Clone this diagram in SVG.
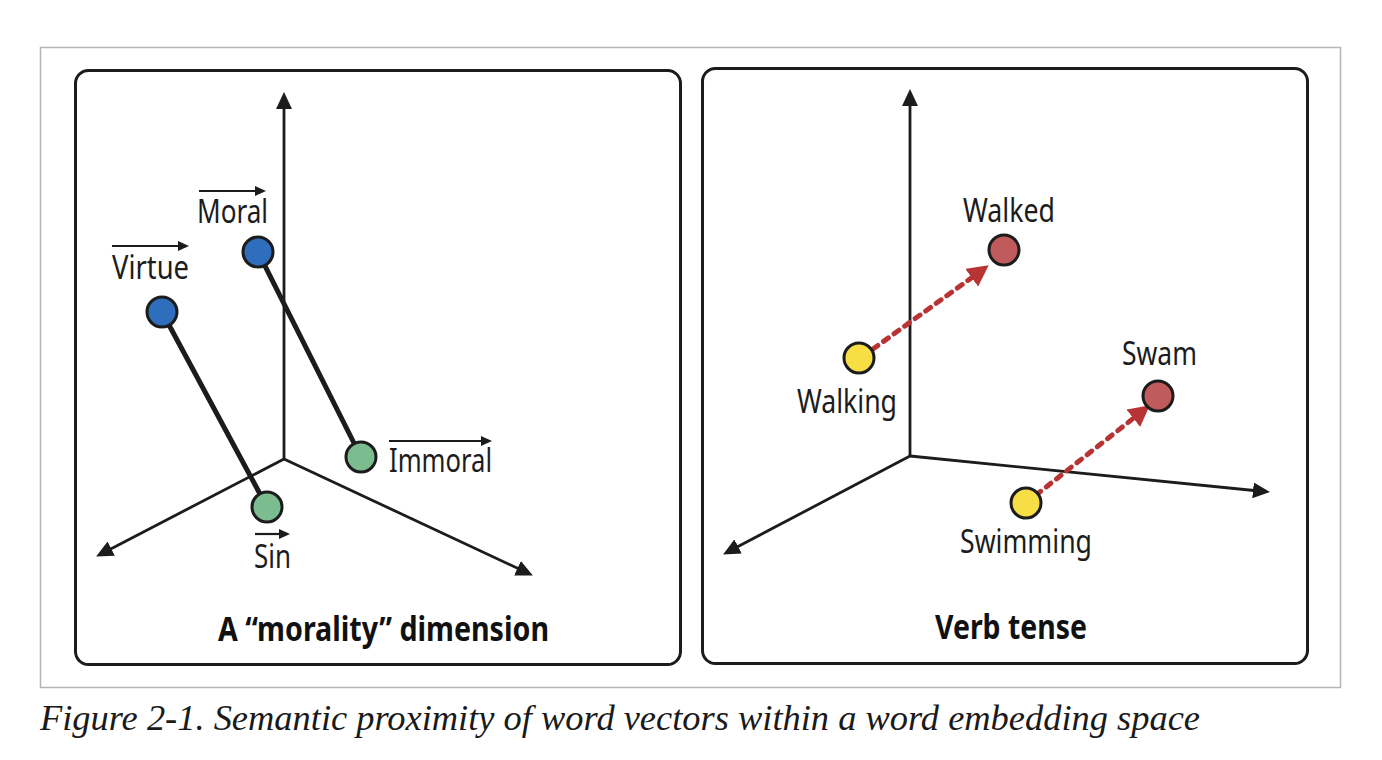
<svg xmlns="http://www.w3.org/2000/svg" width="1382" height="760" viewBox="0 0 1382 760">
<style>
.frame{fill:#fff;stroke:#b5b5b5;stroke-width:1.5}
.panel{fill:#fff;stroke:#1c1c1c;stroke-width:3}
.axis{stroke:#1c1c1c;stroke-width:2.8;fill:none}
.vec{stroke:#1c1c1c;stroke-width:5;fill:none;stroke-linecap:round}
.over{stroke:#1c1c1c;stroke-width:2.2;fill:none}
.dot{stroke:#b83434;stroke-width:5;fill:none;stroke-dasharray:6 7;stroke-linecap:round}
.node{stroke:#1c1c1c;stroke-width:3}
.blue{fill:#2f6ebd}.green{fill:#7bbd8f}.yellow{fill:#f8de45}.red{fill:#c15a5b}
.lbl{font-family:"Noto Sans","Open Sans","DejaVu Sans",sans-serif;font-size:33px;fill:#1c1c1c}
.title{font-family:"Noto Sans","Open Sans","DejaVu Sans",sans-serif;font-size:34px;font-weight:bold;fill:#111}
.cap{font-family:"Liberation Serif","Times New Roman",serif;font-style:italic;font-size:36px;fill:#1a1a1a}
</style>
<defs>
<marker id="ah" markerUnits="userSpaceOnUse" markerWidth="18" markerHeight="16" refX="6" refY="8" orient="auto">
<path d="M0,0 L17,8 L0,16 z" fill="#1c1c1c"/>
</marker>
<marker id="ahs" markerUnits="userSpaceOnUse" markerWidth="12" markerHeight="10" refX="3" refY="5" orient="auto">
<path d="M0,0 L11,5 L0,10 z" fill="#1c1c1c"/>
</marker>
<marker id="ahr" markerUnits="userSpaceOnUse" markerWidth="22" markerHeight="22" refX="2" refY="11" orient="auto">
<path d="M0,0 L21,11 L0,22 z" fill="#b83434"/>
</marker>
</defs>
<rect width="1382" height="760" fill="#fff"/>
<rect class="frame" x="40.5" y="47.5" width="1300" height="640"/>

<g id="panel-morality">
<rect class="panel" x="75.5" y="70.5" width="605" height="594" rx="13"/>
<text class="title" x="218" y="641" textLength="331" lengthAdjust="spacingAndGlyphs">A “morality” dimension</text>
</g>
<g id="panel-tense">
<rect class="panel" x="702.5" y="68.5" width="605" height="595" rx="13"/>
<text class="title" x="935" y="639" textLength="152" lengthAdjust="spacingAndGlyphs">Verb tense</text>
</g>

<g id="connectors">
<line class="axis" x1="284" y1="459" x2="284" y2="103" marker-end="url(#ah)"/>
<line class="axis" x1="284" y1="459" x2="105.9" y2="551.4" marker-end="url(#ah)"/>
<line class="axis" x1="284" y1="459" x2="522.9" y2="570.8" marker-end="url(#ah)"/>
<line class="axis" x1="910" y1="456" x2="910" y2="100" marker-end="url(#ah)"/>
<line class="axis" x1="910" y1="456" x2="732.8" y2="549.3" marker-end="url(#ah)"/>
<line class="axis" x1="910" y1="456" x2="1259" y2="491" marker-end="url(#ah)"/>
<line class="vec" x1="162" y1="312" x2="267" y2="507"/>
<line class="vec" x1="258" y1="252" x2="361" y2="457"/>
<line class="dot" x1="873" y1="349" x2="973.3" y2="276.5" marker-end="url(#ahr)"/>
<line class="dot" x1="1036" y1="495" x2="1134.9" y2="417.1" marker-end="url(#ahr)"/>
</g>

<g id="node-virtue">
<circle class="node blue" cx="162" cy="312" r="15"/>
<line class="over" x1="112" y1="246" x2="181" y2="246" marker-end="url(#ahs)"/>
<text class="lbl" x="112" y="279" textLength="77" lengthAdjust="spacingAndGlyphs">Virtue</text>
</g>
<g id="node-moral">
<circle class="node blue" cx="258" cy="252" r="15"/>
<line class="over" x1="199" y1="191" x2="258" y2="191" marker-end="url(#ahs)"/>
<text class="lbl" x="197" y="223" textLength="71" lengthAdjust="spacingAndGlyphs">Moral</text>
</g>
<g id="node-immoral">
<circle class="node green" cx="361" cy="457" r="15"/>
<line class="over" x1="389" y1="441" x2="484" y2="441" marker-end="url(#ahs)"/>
<text class="lbl" x="389" y="472" textLength="103" lengthAdjust="spacingAndGlyphs">Immoral</text>
</g>
<g id="node-sin">
<circle class="node green" cx="267" cy="507" r="15"/>
<line class="over" x1="255" y1="534" x2="282" y2="534" marker-end="url(#ahs)"/>
<text class="lbl" x="254" y="568" textLength="37" lengthAdjust="spacingAndGlyphs">Sin</text>
</g>
<g id="node-walking">
<circle class="node yellow" cx="859" cy="358" r="15"/>
<text class="lbl" x="797" y="413" textLength="100" lengthAdjust="spacingAndGlyphs">Walking</text>
</g>
<g id="node-walked">
<circle class="node red" cx="1004" cy="250" r="15"/>
<text class="lbl" x="963" y="222" textLength="92" lengthAdjust="spacingAndGlyphs">Walked</text>
</g>
<g id="node-swimming">
<circle class="node yellow" cx="1026" cy="503" r="15"/>
<text class="lbl" x="960" y="553" textLength="132" lengthAdjust="spacingAndGlyphs">Swimming</text>
</g>
<g id="node-swam">
<circle class="node red" cx="1158" cy="396" r="15"/>
<text class="lbl" x="1122" y="365" textLength="75" lengthAdjust="spacingAndGlyphs">Swam</text>
</g>

<text class="cap" x="40" y="730" textLength="1160" lengthAdjust="spacingAndGlyphs">Figure 2-1. Semantic proximity of word vectors within a word embedding space</text>
</svg>
